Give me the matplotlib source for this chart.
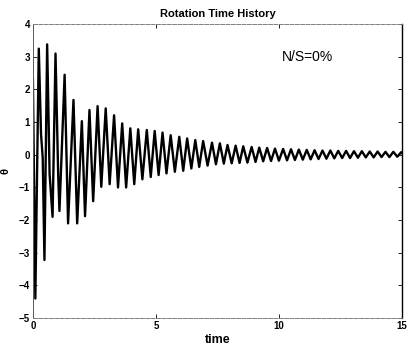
import matplotlib
matplotlib.use("Agg")
import matplotlib.pyplot as plt

# turning points of the rotation signal (time, theta)
t_pts = [
    0.00, 0.05, 0.10, 0.24, 0.33, 0.40, 0.47, 0.58, 0.68, 0.80,
    0.92, 1.03, 1.08, 1.29, 1.43, 1.65, 1.80, 1.99, 2.12, 2.30,
    2.45, 2.63, 2.78, 2.96, 3.12, 3.30, 3.46, 3.63, 3.79, 3.96,
    4.12, 4.28, 4.45, 4.63, 4.79, 4.95, 5.11, 5.27, 5.43, 5.60,
    5.77, 5.95, 6.11, 6.27, 6.44, 6.60, 6.76, 6.92, 7.10, 7.28,
    7.44, 7.60, 7.76, 7.91, 8.08, 8.24, 8.40, 8.55, 8.72, 8.89,
    9.05, 9.20, 9.36, 9.52, 9.68, 9.84, 10.00, 10.17, 10.33, 10.49,
    10.65, 10.81, 10.97, 11.13, 11.29, 11.45, 11.61, 11.77, 11.93, 12.09,
    12.25, 12.41, 12.57, 12.73, 12.89, 13.05, 13.21, 13.37, 13.53, 13.69,
    13.85, 14.01, 14.17, 14.33, 14.49, 14.65, 14.81, 14.97, 15.00,
]
theta_pts = [
    2.35, -1.00, -4.40, 3.25, 0.65, -0.10, -3.22, 3.38, -0.60, -1.90,
    3.10, -0.65, -1.72, 2.45, -2.10, 1.68, -2.10, 1.03, -1.88, 1.37,
    -1.42, 1.49, -0.98, 1.42, -0.90, 1.21, -1.00, 0.96, -1.00, 0.81,
    -0.90, 0.78, -0.75, 0.76, -0.68, 0.73, -0.62, 0.68, -0.57, 0.60,
    -0.52, 0.55, -0.49, 0.50, -0.42, 0.45, -0.37, 0.42, -0.33, 0.37,
    -0.29, 0.35, -0.27, 0.30, -0.26, 0.28, -0.25, 0.26, -0.24, 0.24,
    -0.22, 0.22, -0.20, 0.21, -0.19, 0.19, -0.18, 0.18, -0.17, 0.17,
    -0.16, 0.16, -0.15, 0.15, -0.14, 0.14, -0.13, 0.13, -0.12, 0.13,
    -0.11, 0.12, -0.10, 0.12, -0.10, 0.11, -0.09, 0.11, -0.08, 0.10,
    -0.08, 0.10, -0.07, 0.09, -0.07, 0.09, -0.06, 0.08, 0.05,
]

x_ticks = [0, 5, 10, 15]
y_ticks = [-5, -4, -3, -2, -1, 0, 1, 2, 3, 4]

plt.rcParams["font.family"] = ["Liberation Sans", "DejaVu Sans"]

fig = plt.figure(figsize=(4.11, 3.45), dpi=100)
ax = fig.add_axes([0.080, 0.078, 0.898, 0.852])

ax.plot(t_pts, theta_pts, color="black", linewidth=1.7,
        solid_joinstyle="round", solid_capstyle="round")

ax.set_xlim(0, 15)
ax.set_ylim(-5, 4)
ax.set_xticks(x_ticks)
ax.set_yticks(y_ticks)
ax.tick_params(direction="in", length=3, width=0.6, labelsize=7, pad=2,
               top=True, right=True)
for lab in ax.get_xticklabels() + ax.get_yticklabels():
    lab.set_fontweight("bold")

for side in ["top", "bottom"]:
    ax.spines[side].set_color("0.5")
    ax.spines[side].set_linewidth(0.7)
    ax.spines[side].set_linestyle((0, (4, 1.5)))
ax.spines["left"].set_color("0.35")
ax.spines["left"].set_linewidth(0.7)
ax.spines["right"].set_color("black")
ax.spines["right"].set_linewidth(1.0)

ax.set_title("Rotation Time History", fontsize=8, fontweight="bold", pad=5)
ax.set_xlabel("time", fontsize=9, fontweight="bold", labelpad=2)
ax.set_ylabel("θ", fontsize=8, fontweight="bold", rotation=90, labelpad=6)
ax.text(10.1, 3.0, "N/S=0%", fontsize=10, va="center", ha="left")

fig.savefig("out.png", dpi=100)
